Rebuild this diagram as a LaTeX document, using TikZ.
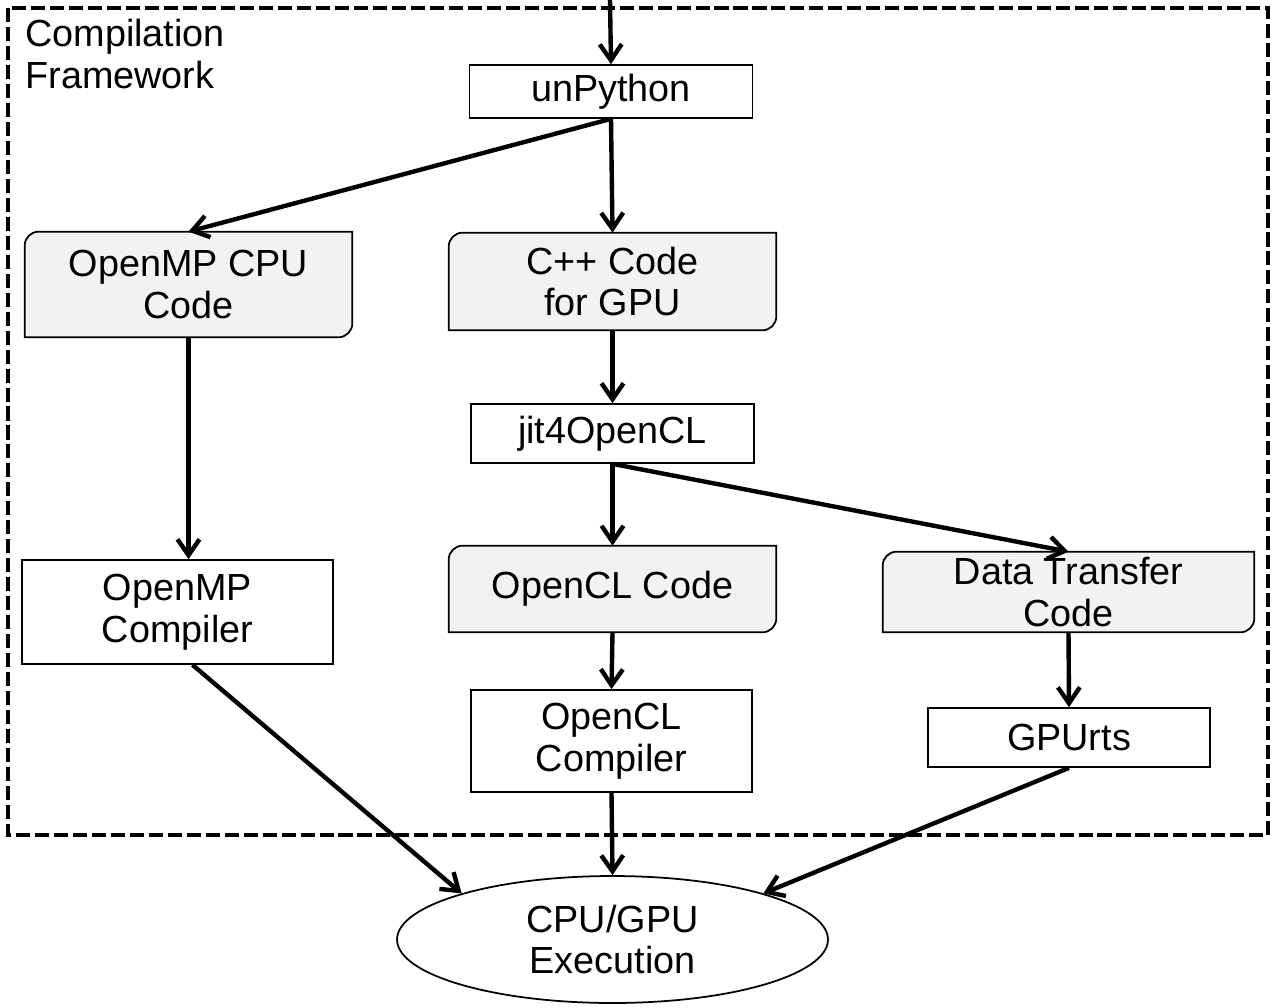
\documentclass[tikz,border=0pt]{standalone}
\usepackage{fontspec}
\setmainfont{Liberation Sans}
\usetikzlibrary{arrows.meta,shapes.geometric,backgrounds}

\definecolor{codegray}{HTML}{F2F2F2}
\newcommand{\boxfont}{\fontsize{21.5}{23.6}\selectfont}

% gray box with two rounded corners behind a node
\newcommand{\codeshape}[1]{%
  \begin{scope}[on background layer]
    \draw[codeline] (#1.south west) -- ([yshift=-0.28cm]#1.north west)
      arc[start angle=180, end angle=90, radius=0.28cm] -- (#1.north east)
      -- ([yshift=0.28cm]#1.south east)
      arc[start angle=0, end angle=-90, radius=0.28cm] -- cycle;
  \end{scope}}

\begin{document}
\begin{tikzpicture}[x=0.02cm, y=-0.02cm,
    stage/.style={draw, line width=1pt, fill=white, inner sep=0pt, align=center, font=\boxfont},
    codebox/.style={inner sep=0pt, align=center, font=\boxfont},
    codeline/.style={draw, fill=codegray, line width=1pt},
    flow/.style={line width=2.5pt, -{Straight Barb[length=0.32cm, width=0.44cm]}}]
        \useasboundingbox (0,0) rectangle (1273,1007);

        % Draw the framework
        \draw[line width=2.3pt, dash pattern=on 8pt off 2.8pt] (8,8) rectangle (1268,835);
        \node[anchor=west, inner sep=0pt, align=left, font=\boxfont] (fw) at (25,54) {Compilation\\Framework};

        % Define nodes of the front end
        \coordinate (src) at (610,0);
        \node[stage, minimum width=5.66cm, minimum height=1.06cm] (unpy) at (611,91.5) {unPython};
        \node[codebox, minimum width=6.54cm, minimum height=2.1cm] (ompcode) at (188.5,284.5) {OpenMP CPU\\Code};
        \node[codebox, minimum width=6.54cm, minimum height=1.94cm] (cppcode) at (612.5,281.5) {C++ Code\\for GPU};
        \node[stage, minimum width=5.66cm, minimum height=1.18cm] (jit) at (612.5,433.5) {jit4OpenCL};

        % Define nodes of the back ends
        \node[stage, minimum width=6.22cm, minimum height=2.08cm] (ompcc) at (177.5,612) {OpenMP\\Compiler};
        \node[codebox, minimum width=6.54cm, minimum height=1.72cm] (oclcode) at (612.5,589) {OpenCL Code};
        \node[codebox, minimum width=7.42cm, minimum height=1.6cm] (dtcode) at (1068.5,592) {Data Transfer\\Code};
        \node[stage, minimum width=5.62cm, minimum height=2.04cm] (oclcc) at (611.5,741) {OpenCL\\Compiler};
        \node[stage, minimum width=5.64cm, minimum height=1.18cm] (gpurts) at (1069,737.5) {GPUrts};
        \node[ellipse, draw, line width=1pt, inner sep=0pt, minimum width=8.62cm, minimum height=2.54cm, align=center, font=\boxfont] (exec) at (612.5,939.5) {CPU/GPU\\Execution};

        \codeshape{ompcode}
        \codeshape{cppcode}
        \codeshape{oclcode}
        \codeshape{dtcode}

        % Draw the flow
        \draw[flow] (src) -- (unpy.north);
        \draw[flow] (unpy.south) -- (ompcode.north);
        \draw[flow] (unpy.south) -- (cppcode.north);
        \draw[flow] (cppcode.south) -- (jit.north);
        \draw[flow] (ompcode.south) -- (ompcode.south |- ompcc.north);
        \draw[flow] (jit.south) -- (oclcode.north);
        \draw[flow] (jit.south) -- (dtcode.north);
        \draw[flow] (oclcode.south) -- (oclcc.north);
        \draw[flow] (dtcode.south) -- (gpurts.north);
        \draw[flow] ([xshift=0.3cm]ompcc.south) -- (exec.163);
        \draw[flow] (oclcc.south) -- (exec.north);
        \draw[flow] (gpurts.south) -- (exec.17);
    \end{tikzpicture}
\end{document}
